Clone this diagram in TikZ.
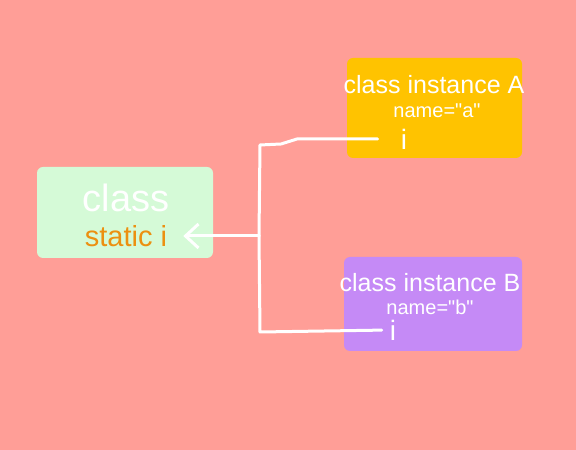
\documentclass[tikz,border=0pt]{standalone}
\usepackage{fontspec}
\setmainfont{Liberation Sans}
\newfontfamily\plainsans{Liberation Sans}
\usetikzlibrary{arrows.meta,positioning}

\definecolor{bgpink}{HTML}{FF9E97}
\definecolor{classgreen}{HTML}{D5FAD7}
\definecolor{instA}{HTML}{FFC300}
\definecolor{instB}{HTML}{C58AF6}
\definecolor{staticorange}{HTML}{EC9010}

\begin{document}
\begin{tikzpicture}[x=1pt,y=1pt,line join=round,line cap=round]
	  \tikzstyle{box}=[rounded corners=6pt,inner sep=0pt]
	  \tikzstyle{label}=[text=white,inner sep=1pt]
	  \tikzstyle{wire}=[draw=white,line width=3pt]

	  % background
	  \fill[bgpink] (0,0) rectangle (576,450);

	  \node[box,fill=classgreen,minimum width=176pt,minimum height=91pt] (classbox) at (125,237.5) {};
	  \node[box,fill=instA,minimum width=175pt,minimum height=100pt]     (boxA) at (434.5,342) {};
	  \node[box,fill=instB,minimum width=178pt,minimum height=94pt]      (boxB) at (433,146) {};

	  \node[label,font=\fontsize{38}{38}\selectfont] (cls) at (126,252) {class};
	  \node[label,text=staticorange,font=\fontsize{29}{29}\selectfont] (statici) at (126,214) {static i};

	  \node[label,font=\fontsize{25}{25}\selectfont] (titleA) at (434,365) {class instance A};
	  \node[label,font=\plainsans\fontsize{20}{20}\selectfont] (nameA) at (437,339) {name="a"};
	  \node[label,font=\fontsize{28}{28}\selectfont] (iA) at (404,311) {i};

	  \node[label,font=\fontsize{25}{25}\selectfont] (titleB) at (430,167) {class instance B};
	  \node[label,font=\plainsans\fontsize{20}{20}\selectfont] (nameB) at (430,143) {name="b"};
	  \node[label,font=\fontsize{28}{28}\selectfont] (iB) at (393,120) {i};

	  \coordinate (junc) at (259,214);

	  \draw[wire,shorten <=22pt] (iA.west) -- (297,311) -- (281,306) -- (260,305) -- (junc);
	  \draw[wire,shorten <=7pt] (iB.west) -- (260,118) -- (junc);
	  \draw[wire,-{Straight Barb[length=13pt,width=24pt]},shorten >=15pt] (junc) -- (statici.east);
	\end{tikzpicture}
\end{document}
